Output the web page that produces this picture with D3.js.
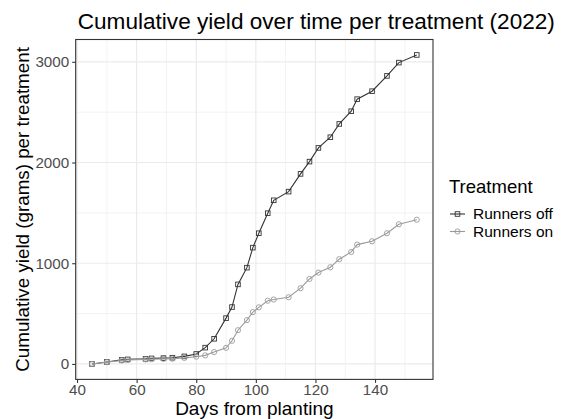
<!DOCTYPE html>
<html>
<head>
<meta charset="utf-8">
<script src="https://cdn.jsdelivr.net/npm/d3@7"></script>
<style>
  body { margin: 0; background: #fff; }
  text { font-family: "Liberation Sans", Arial, sans-serif; }
</style>
</head>
<body>
<div id="chart"></div>
<script>
// Harvest days (days from planting)
const days = [45, 50, 55, 57, 63, 65, 69, 72, 76, 80, 83, 86, 90, 92, 94, 97, 99, 101, 104, 106,
              111, 115, 118, 121, 125, 128, 132, 134, 139, 144, 148, 154];
// Cumulative yield (grams), runners removed
const runnersOff = [0, 20, 40, 45, 50, 55, 58, 62, 75, 99, 162, 250, 455, 565, 790, 956, 1155, 1298, 1497, 1625,
                    1711, 1887, 2009, 2145, 2251, 2383, 2509, 2629, 2708, 2860, 2992, 3068];
// Cumulative yield (grams), runners left on
const runnersOn = [0, 18, 35, 40, 45, 48, 50, 52, 60, 72, 85, 118, 160, 230, 335, 435, 515, 562, 628, 640,
                   662, 752, 844, 907, 960, 1040, 1112, 1185, 1218, 1298, 1387, 1432];
const treatments = ["Runners off", "Runners on"];
const xTicks = [40, 60, 80, 100, 120, 140];
const xMinor = [50, 70, 90, 110, 130, 150];
const yTicks = [0, 1000, 2000, 3000];
const yMinor = [500, 1500, 2500];

const series = [
  { name: treatments[0], values: runnersOff, color: "#333333", shape: "square" },
  { name: treatments[1], values: runnersOn, color: "#9a9a9a", shape: "circle" }
];

const W = 571, H = 419;
const margin = { top: 39.5, right: 138, bottom: 39.6, left: 75.7 };
const width = W - margin.left - margin.right;
const height = H - margin.top - margin.bottom;

const svg = d3.select("#chart").append("svg")
  .attr("width", W).attr("height", H);

// ggplot-style 5% expansion
const xPad = (d3.max(days) - d3.min(days)) * 0.05;
const allY = runnersOff.concat(runnersOn);
const yPad = (d3.max(allY) - d3.min(allY)) * 0.05;

const x = d3.scaleLinear()
  .domain([d3.min(days) - xPad, d3.max(days) + xPad])
  .range([0, width]);
const y = d3.scaleLinear()
  .domain([d3.min(allY) - yPad, d3.max(allY) + yPad])
  .range([height, 0]);

const g = svg.append("g").attr("transform", `translate(${margin.left},${margin.top})`);

// grid lines
g.selectAll(".xminor").data(xMinor).join("line")
  .attr("x1", d => x(d)).attr("x2", d => x(d)).attr("y1", 0).attr("y2", height)
  .attr("stroke", "#ebebeb").attr("stroke-width", 0.6);
g.selectAll(".yminor").data(yMinor).join("line")
  .attr("y1", d => y(d)).attr("y2", d => y(d)).attr("x1", 0).attr("x2", width)
  .attr("stroke", "#ebebeb").attr("stroke-width", 0.6);
g.selectAll(".xmajor").data(xTicks).join("line")
  .attr("x1", d => x(d)).attr("x2", d => x(d)).attr("y1", 0).attr("y2", height)
  .attr("stroke", "#ebebeb").attr("stroke-width", 1.2);
g.selectAll(".ymajor").data(yTicks).join("line")
  .attr("y1", d => y(d)).attr("y2", d => y(d)).attr("x1", 0).attr("x2", width)
  .attr("stroke", "#ebebeb").attr("stroke-width", 1.2);

// lines and points
const line = d3.line()
  .x((d, i) => x(days[i]))
  .y(d => y(d));

series.forEach(s => {
  g.append("path")
    .datum(s.values)
    .attr("fill", "none")
    .attr("stroke", s.color)
    .attr("stroke-width", 1.1)
    .attr("d", line);

  if (s.shape === "square") {
    g.selectAll(".pt-off").data(s.values).join("rect")
      .attr("x", (d, i) => x(days[i]) - 2.3)
      .attr("y", d => y(d) - 2.3)
      .attr("width", 4.6).attr("height", 4.6)
      .attr("fill", "none").attr("stroke", s.color).attr("stroke-width", 0.9);
  } else {
    g.selectAll(".pt-on").data(s.values).join("circle")
      .attr("cx", (d, i) => x(days[i]))
      .attr("cy", d => y(d))
      .attr("r", 2.6)
      .attr("fill", "none").attr("stroke", s.color).attr("stroke-width", 0.9);
  }
});

// panel border
g.append("rect")
  .attr("x", 0).attr("y", 0).attr("width", width).attr("height", height)
  .attr("fill", "none").attr("stroke", "#333333").attr("stroke-width", 1.1);

// axes
const xAxis = g.append("g").attr("transform", `translate(0,${height})`)
  .call(d3.axisBottom(x).tickValues(xTicks).tickFormat(d3.format("d")).tickSize(3.5).tickPadding(1));
const yAxis = g.append("g")
  .call(d3.axisLeft(y).tickValues(yTicks).tickFormat(d3.format("d")).tickSize(3.5).tickPadding(3));
[xAxis, yAxis].forEach(a => {
  a.select(".domain").remove();
  a.selectAll(".tick line").attr("stroke", "#333333").attr("stroke-width", 1.1);
  a.selectAll(".tick text")
    .attr("fill", "#4d4d4d")
    .style("font-family", "'Liberation Sans', Arial, sans-serif")
    .style("font-size", "15.2px");
});

// titles
svg.append("text")
  .attr("x", margin.left + 2).attr("y", 29)
  .style("font-size", "22.6px").attr("fill", "#000")
  .text("Cumulative yield over time per treatment (2022)");

svg.append("text")
  .attr("x", margin.left + width / 2).attr("y", H - 3.8)
  .attr("text-anchor", "middle")
  .style("font-size", "19px").attr("fill", "#000")
  .text("Days from planting");

svg.append("text")
  .attr("transform", `translate(29,${margin.top + height / 2}) rotate(-90)`)
  .attr("text-anchor", "middle")
  .style("font-size", "18.8px").attr("fill", "#000")
  .text("Cumulative yield (grams) per treatment");

// legend
const lg = svg.append("g").attr("transform", "translate(449,0)");
lg.append("text").attr("x", 0).attr("y", 193)
  .style("font-size", "18.5px").attr("fill", "#000").text("Treatment");

series.forEach((s, i) => {
  const cy = 214 + i * 17.5;
  lg.append("line").attr("x1", 1).attr("x2", 16).attr("y1", cy).attr("y2", cy)
    .attr("stroke", s.color).attr("stroke-width", 1.1);
  if (s.shape === "square") {
    lg.append("rect").attr("x", 8.5 - 2.3).attr("y", cy - 2.3).attr("width", 4.6).attr("height", 4.6)
      .attr("fill", "none").attr("stroke", s.color).attr("stroke-width", 0.9);
  } else {
    lg.append("circle").attr("cx", 8.5).attr("cy", cy).attr("r", 2.6)
      .attr("fill", "none").attr("stroke", s.color).attr("stroke-width", 0.9);
  }
  lg.append("text").attr("x", 24).attr("y", cy + 5)
    .style("font-size", "15.5px").attr("fill", "#000").text(s.name);
});
</script>
</body>
</html>
